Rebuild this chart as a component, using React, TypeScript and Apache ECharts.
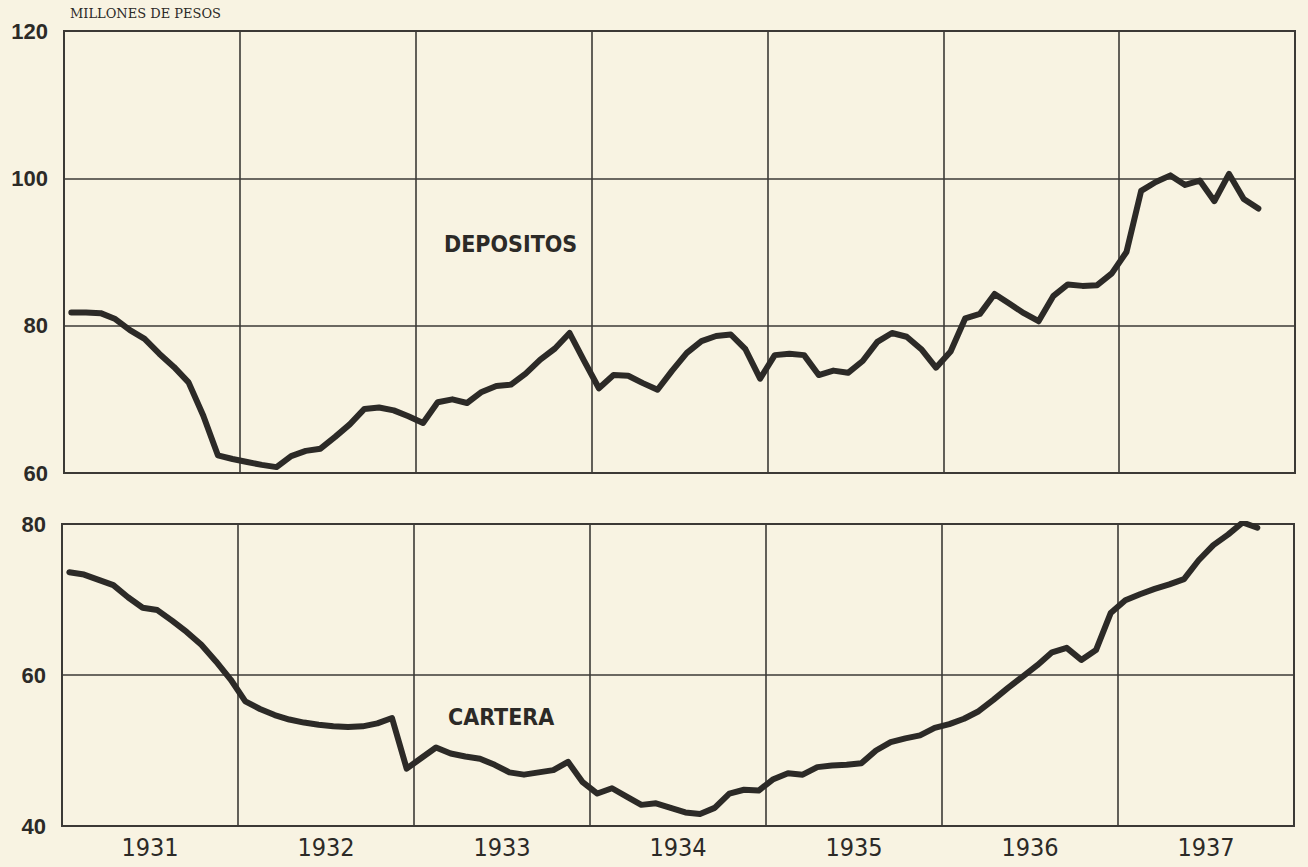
import React, { useEffect, useRef } from "react";
import * as echarts from "echarts";

const years = ["1931", "1932", "1933", "1934", "1935", "1936", "1937"];
const startYear = 1931;

// Monthly values, Jan 1931 – Oct 1937 (millones de pesos)
const depositos = [
  81.8, 81.8, 81.7, 80.9, 79.4, 78.2, 76.2, 74.4, 72.3, 67.8, 62.4, 61.9,
  61.5, 61.1, 60.8, 62.3, 63.0, 63.3, 64.9, 66.6, 68.7, 68.9, 68.5, 67.7,
  66.8, 69.6, 70.0, 69.5, 71.0, 71.8, 72.0, 73.5, 75.4, 76.9, 79.0, 75.2,
  71.5, 73.3, 73.2, 72.2, 71.3, 73.9, 76.3, 77.9, 78.6, 78.8, 76.8, 72.8,
  76.0, 76.2, 76.0, 73.3, 73.9, 73.6, 75.2, 77.8, 79.0, 78.5, 76.8, 74.3,
  76.5, 81.0, 81.6, 84.3, 83.0, 81.7, 80.6, 84.0, 85.6, 85.4, 85.5, 87.1,
  90.0, 98.3, 99.5, 100.4, 99.1, 99.7, 96.9, 100.6, 97.2, 95.9,
];

const cartera = [
  73.6, 73.3, 72.6, 71.9, 70.3, 68.9, 68.6, 67.2, 65.7, 64.0, 61.8, 59.4,
  56.5, 55.5, 54.7, 54.1, 53.7, 53.4, 53.2, 53.1, 53.2, 53.6, 54.3, 47.6,
  49.0, 50.4, 49.6, 49.2, 48.9, 48.1, 47.1, 46.8, 47.1, 47.4, 48.5, 45.8,
  44.3, 45.0, 43.9, 42.8, 43.0, 42.4, 41.8, 41.6, 42.4, 44.3, 44.8, 44.7,
  46.2, 47.0, 46.8, 47.8, 48.0, 48.1, 48.3, 50.0, 51.1, 51.6, 52.0, 53.0,
  53.5, 54.2, 55.2, 56.7, 58.3, 59.8, 61.3, 63.0, 63.6, 62.0, 63.3, 68.2,
  69.9, 70.7, 71.4, 72.0, 72.7, 75.2, 77.2, 78.6, 80.2, 79.5,
];

const topTicks = { min: 60, max: 120, interval: 20 };
const bottomTicks = { min: 40, max: 80, interval: 20 };

const toPoints = (vals: number[]) =>
  vals.map((v, i) => [startYear + (i + 0.5) / 12, v]);

const INK = "#2c2a27";
const GRID = "#3c3a36";
const BG = "#f8f3e2";

export default function App() {
  const ref = useRef<HTMLDivElement>(null);

  useEffect(() => {
    if (!ref.current) return;
    const chart = echarts.init(ref.current, null, { renderer: "svg" });

    const yLabel = {
      color: INK,
      fontSize: 22,
      fontWeight: "bold" as const,
      fontFamily: "Liberation Sans, Arial, sans-serif",
      margin: 16,
    };

    const xValueAxis = (gridIndex: number) => ({
      type: "value" as const,
      gridIndex,
      min: startYear,
      max: startYear + years.length,
      interval: 1,
      axisLabel: { show: false },
      axisTick: { show: false },
      axisLine: { show: false },
      splitLine: { show: true, lineStyle: { color: GRID, width: 1.6 } },
    });

    chart.setOption({
      animation: false,
      backgroundColor: BG,
      grid: [
        {
          left: 64,
          right: 13,
          top: 31,
          height: 442,
          show: true,
          borderColor: GRID,
          borderWidth: 2,
          backgroundColor: "transparent",
        },
        {
          left: 62,
          right: 14,
          top: 524,
          height: 302,
          show: true,
          borderColor: GRID,
          borderWidth: 2,
          backgroundColor: "transparent",
        },
      ],
      xAxis: [
        xValueAxis(0),
        xValueAxis(1),
        {
          type: "category",
          gridIndex: 1,
          data: years,
          boundaryGap: true,
          position: "bottom",
          axisLine: { show: false },
          axisTick: { show: false },
          splitLine: { show: false },
          axisLabel: {
            color: INK,
            fontSize: 25,
            fontFamily: "DejaVu Sans Condensed, DejaVu Sans, sans-serif",
            margin: 9,
          },
        },
      ],
      yAxis: [
        {
          type: "value",
          gridIndex: 0,
          ...topTicks,
          axisLine: { show: false },
          axisTick: { show: false },
          axisLabel: yLabel,
          splitLine: { show: true, lineStyle: { color: GRID, width: 1.6 } },
        },
        {
          type: "value",
          gridIndex: 1,
          ...bottomTicks,
          axisLine: { show: false },
          axisTick: { show: false },
          axisLabel: yLabel,
          splitLine: { show: true, lineStyle: { color: GRID, width: 1.6 } },
        },
      ],
      series: [
        {
          name: "DEPOSITOS",
          type: "line",
          xAxisIndex: 0,
          yAxisIndex: 0,
          data: toPoints(depositos),
          showSymbol: false,
          lineStyle: { color: INK, width: 6, join: "round", cap: "round" },
        },
        {
          name: "CARTERA",
          type: "line",
          xAxisIndex: 1,
          yAxisIndex: 1,
          data: toPoints(cartera),
          showSymbol: false,
          lineStyle: { color: INK, width: 6, join: "round", cap: "round" },
        },
      ],
      graphic: [
        {
          type: "text",
          left: 70,
          top: 7,
          style: {
            text: "MILLONES DE PESOS",
            fill: INK,
            font: "13px 'DejaVu Serif', 'Liberation Serif', serif",
          },
        },
        {
          type: "text",
          left: 444,
          top: 232,
          style: {
            text: "DEPOSITOS",
            fill: INK,
            font: "bold 23px 'DejaVu Sans Condensed', 'DejaVu Sans', sans-serif",
          },
        },
        {
          type: "text",
          left: 448,
          top: 705,
          style: {
            text: "CARTERA",
            fill: INK,
            font: "bold 23px 'DejaVu Sans Condensed', 'DejaVu Sans', sans-serif",
          },
        },
      ],
    });

    return () => chart.dispose();
  }, []);

  return (
    <div
      ref={ref}
      style={{ position: "fixed", left: 0, top: 0, width: 1308, height: 867 }}
    />
  );
}
